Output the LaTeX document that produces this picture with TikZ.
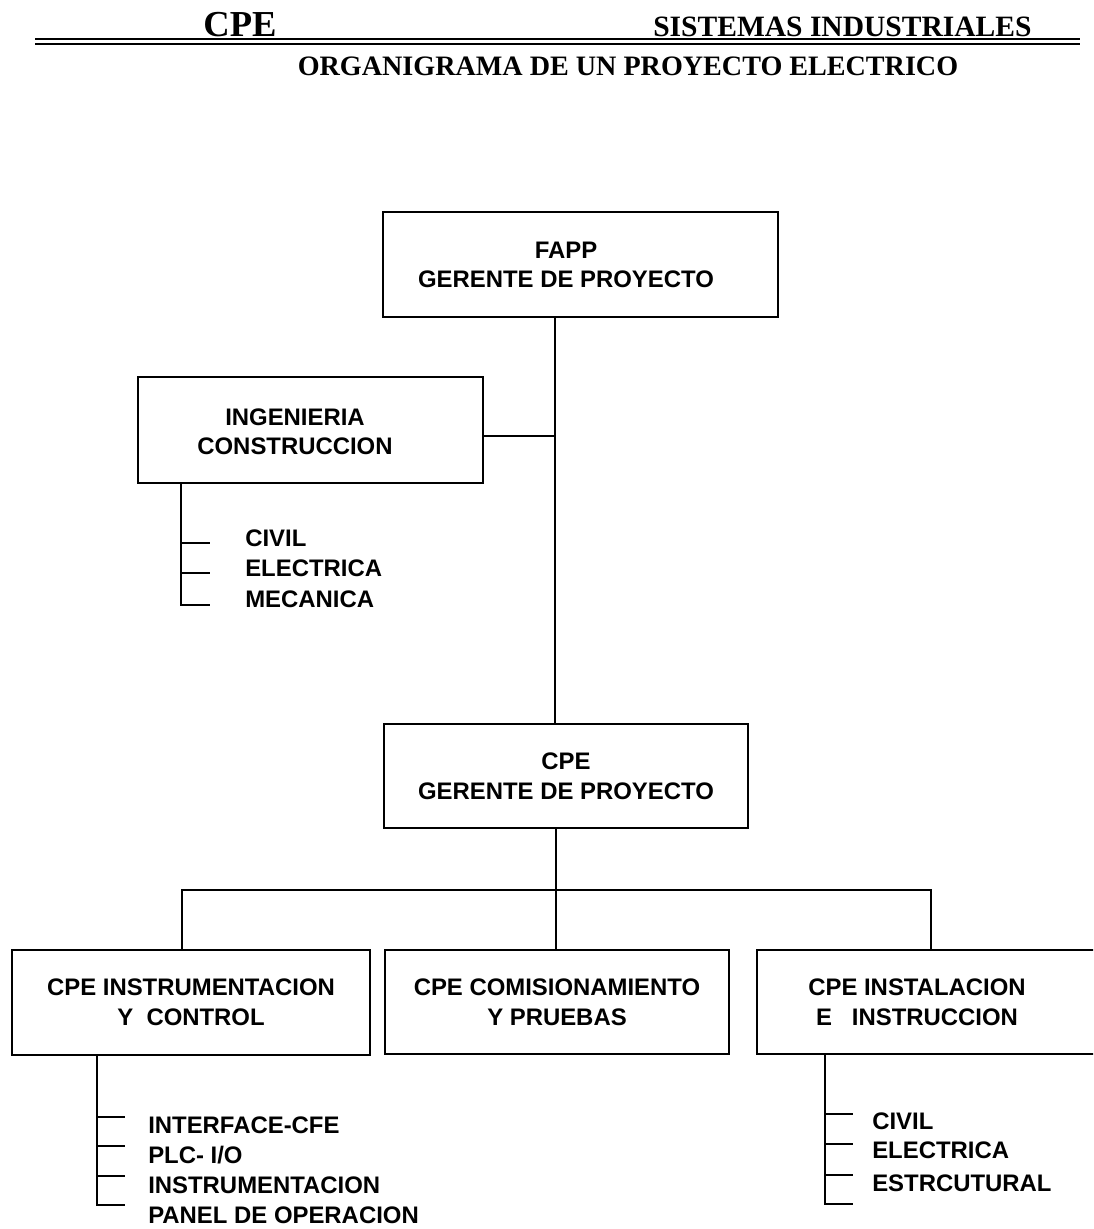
\documentclass[tikz,border=0pt]{standalone}
\usepackage{fontspec}
\setmainfont{Liberation Sans}
\newfontfamily\headfont{Liberation Serif}
\usepackage{tikz}
\usetikzlibrary{positioning}
\tikzset{>=stealth}
\tikzset{
  box/.style={draw, line width=1.5pt, inner sep=0pt, align=center, font=\bfseries\fontsize{17}{21}\selectfont},
  boxtext/.style={align=center, inner sep=0pt, font=\bfseries\fontsize{17}{21}\selectfont},
  item/.style={anchor=west, inner sep=0pt, font=\bfseries\fontsize{17}{21}\selectfont},
  conn/.style={line width=1.5pt},
}

\begin{document}
\begin{tikzpicture}[x=0.025cm, y=-0.025cm]
            \useasboundingbox (0,0) rectangle (1093,1229);
            \clip (0,0) rectangle (1093,1229);
            % header
            \node[anchor=base, inner sep=0pt, font=\headfont\bfseries\fontsize{26}{30}\selectfont] (cpehead) at (240,37) {CPE};
            \node[anchor=base west, inner sep=0pt, font=\headfont\bfseries\fontsize{21}{25}\selectfont] (sishead) at (653,37) {SISTEMAS INDUSTRIALES};
            \draw[line width=1.6pt] (35,39)--(1080,39);
            \draw[line width=1pt] (35,44)--(1080,44);
            \node[anchor=base, inner sep=0pt, font=\headfont\bfseries\fontsize{20}{24}\selectfont] (title) at (628,76) {ORGANIGRAMA DE UN PROYECTO ELECTRICO};
            % boxes
            \node[box, minimum width=98.75mm, minimum height=26.25mm] (fapp) at (580.5,264.5) {};
            \node[boxtext] (fapptxt) at (566,265) {FAPP\\GERENTE DE PROYECTO};
            \node[box, minimum width=86.25mm, minimum height=26.5mm] (ing) at (310.5,430) {};
            \node[boxtext] (ingtxt) at (295,432) {INGENIERIA\\CONSTRUCCION};
            \node[box, minimum width=91mm, minimum height=26mm] (cpegp) at (566,776) {CPE\\GERENTE DE PROYECTO};
            \node[box, minimum width=89.5mm, minimum height=26.25mm] (instr) at (191,1002.5) {CPE INSTRUMENTACION\\Y\ \ CONTROL};
            \node[box, minimum width=86mm, minimum height=26mm] (comis) at (557,1002) {CPE COMISIONAMIENTO\\Y PRUEBAS};
            \node[box, minimum width=85.75mm, minimum height=26mm] (instal) at (928.5,1002) {};
            \node[boxtext] (instaltxt) at (917,1002) {CPE INSTALACION\\E\ \ \ INSTRUCCION};
            % connectors
            \coordinate (trunk) at (555,436);
            \draw[conn] (trunk |- fapp.south)--(trunk |- cpegp.north);
            \draw[conn] (ing.east |- trunk)--(trunk);
            \coordinate (bus) at (556,890);
            \coordinate (busl) at (182,890);
            \coordinate (busr) at (931,890);
            \draw[conn] (bus |- cpegp.south)--(bus)--(bus |- comis.north);
            \draw[conn] (busl |- instr.north)--(busl)--(busr)--(busr |- instal.north);
            % ingenieria list
            \coordinate (ingleg) at (181,605);
            \draw[conn] (ingleg |- ing.south)--(ingleg)--++(29,0);
            \draw[conn] (181,543)--(210,543);
            \draw[conn] (181,573)--(210,573);
            \node[item] (ingciv) at (245,538.5) {CIVIL};
            \node[item] (ingele) at (245,568.5) {ELECTRICA};
            \node[item] (ingmec) at (245,599) {MECANICA};
            % instrumentacion list
            \coordinate (instrleg) at (97,1205);
            \draw[conn] (instrleg |- instr.south)--(instrleg)--++(28,0);
            \draw[conn] (97,1117)--(125,1117);
            \draw[conn] (97,1146)--(125,1146);
            \draw[conn] (97,1176)--(125,1176);
            \node[item] (insint) at (148,1125) {INTERFACE-CFE};
            \node[item] (insplc) at (148,1155) {PLC- I/O};
            \node[item] (insins) at (148,1185) {INSTRUMENTACION};
            \node[item] (inspan) at (148,1215) {PANEL DE OPERACION};
            % instalacion list
            \coordinate (installeg) at (825,1204);
            \draw[conn] (installeg |- instal.south)--(installeg)--++(28,0);
            \draw[conn] (825,1114)--(853,1114);
            \draw[conn] (825,1144)--(853,1144);
            \draw[conn] (825,1175)--(853,1175);
            \node[item] (instciv) at (872,1121.5) {CIVIL};
            \node[item] (instele) at (872,1150.5) {ELECTRICA};
            \node[item] (instest) at (872,1183.5) {ESTRCUTURAL};
\end{tikzpicture}
\end{document}
